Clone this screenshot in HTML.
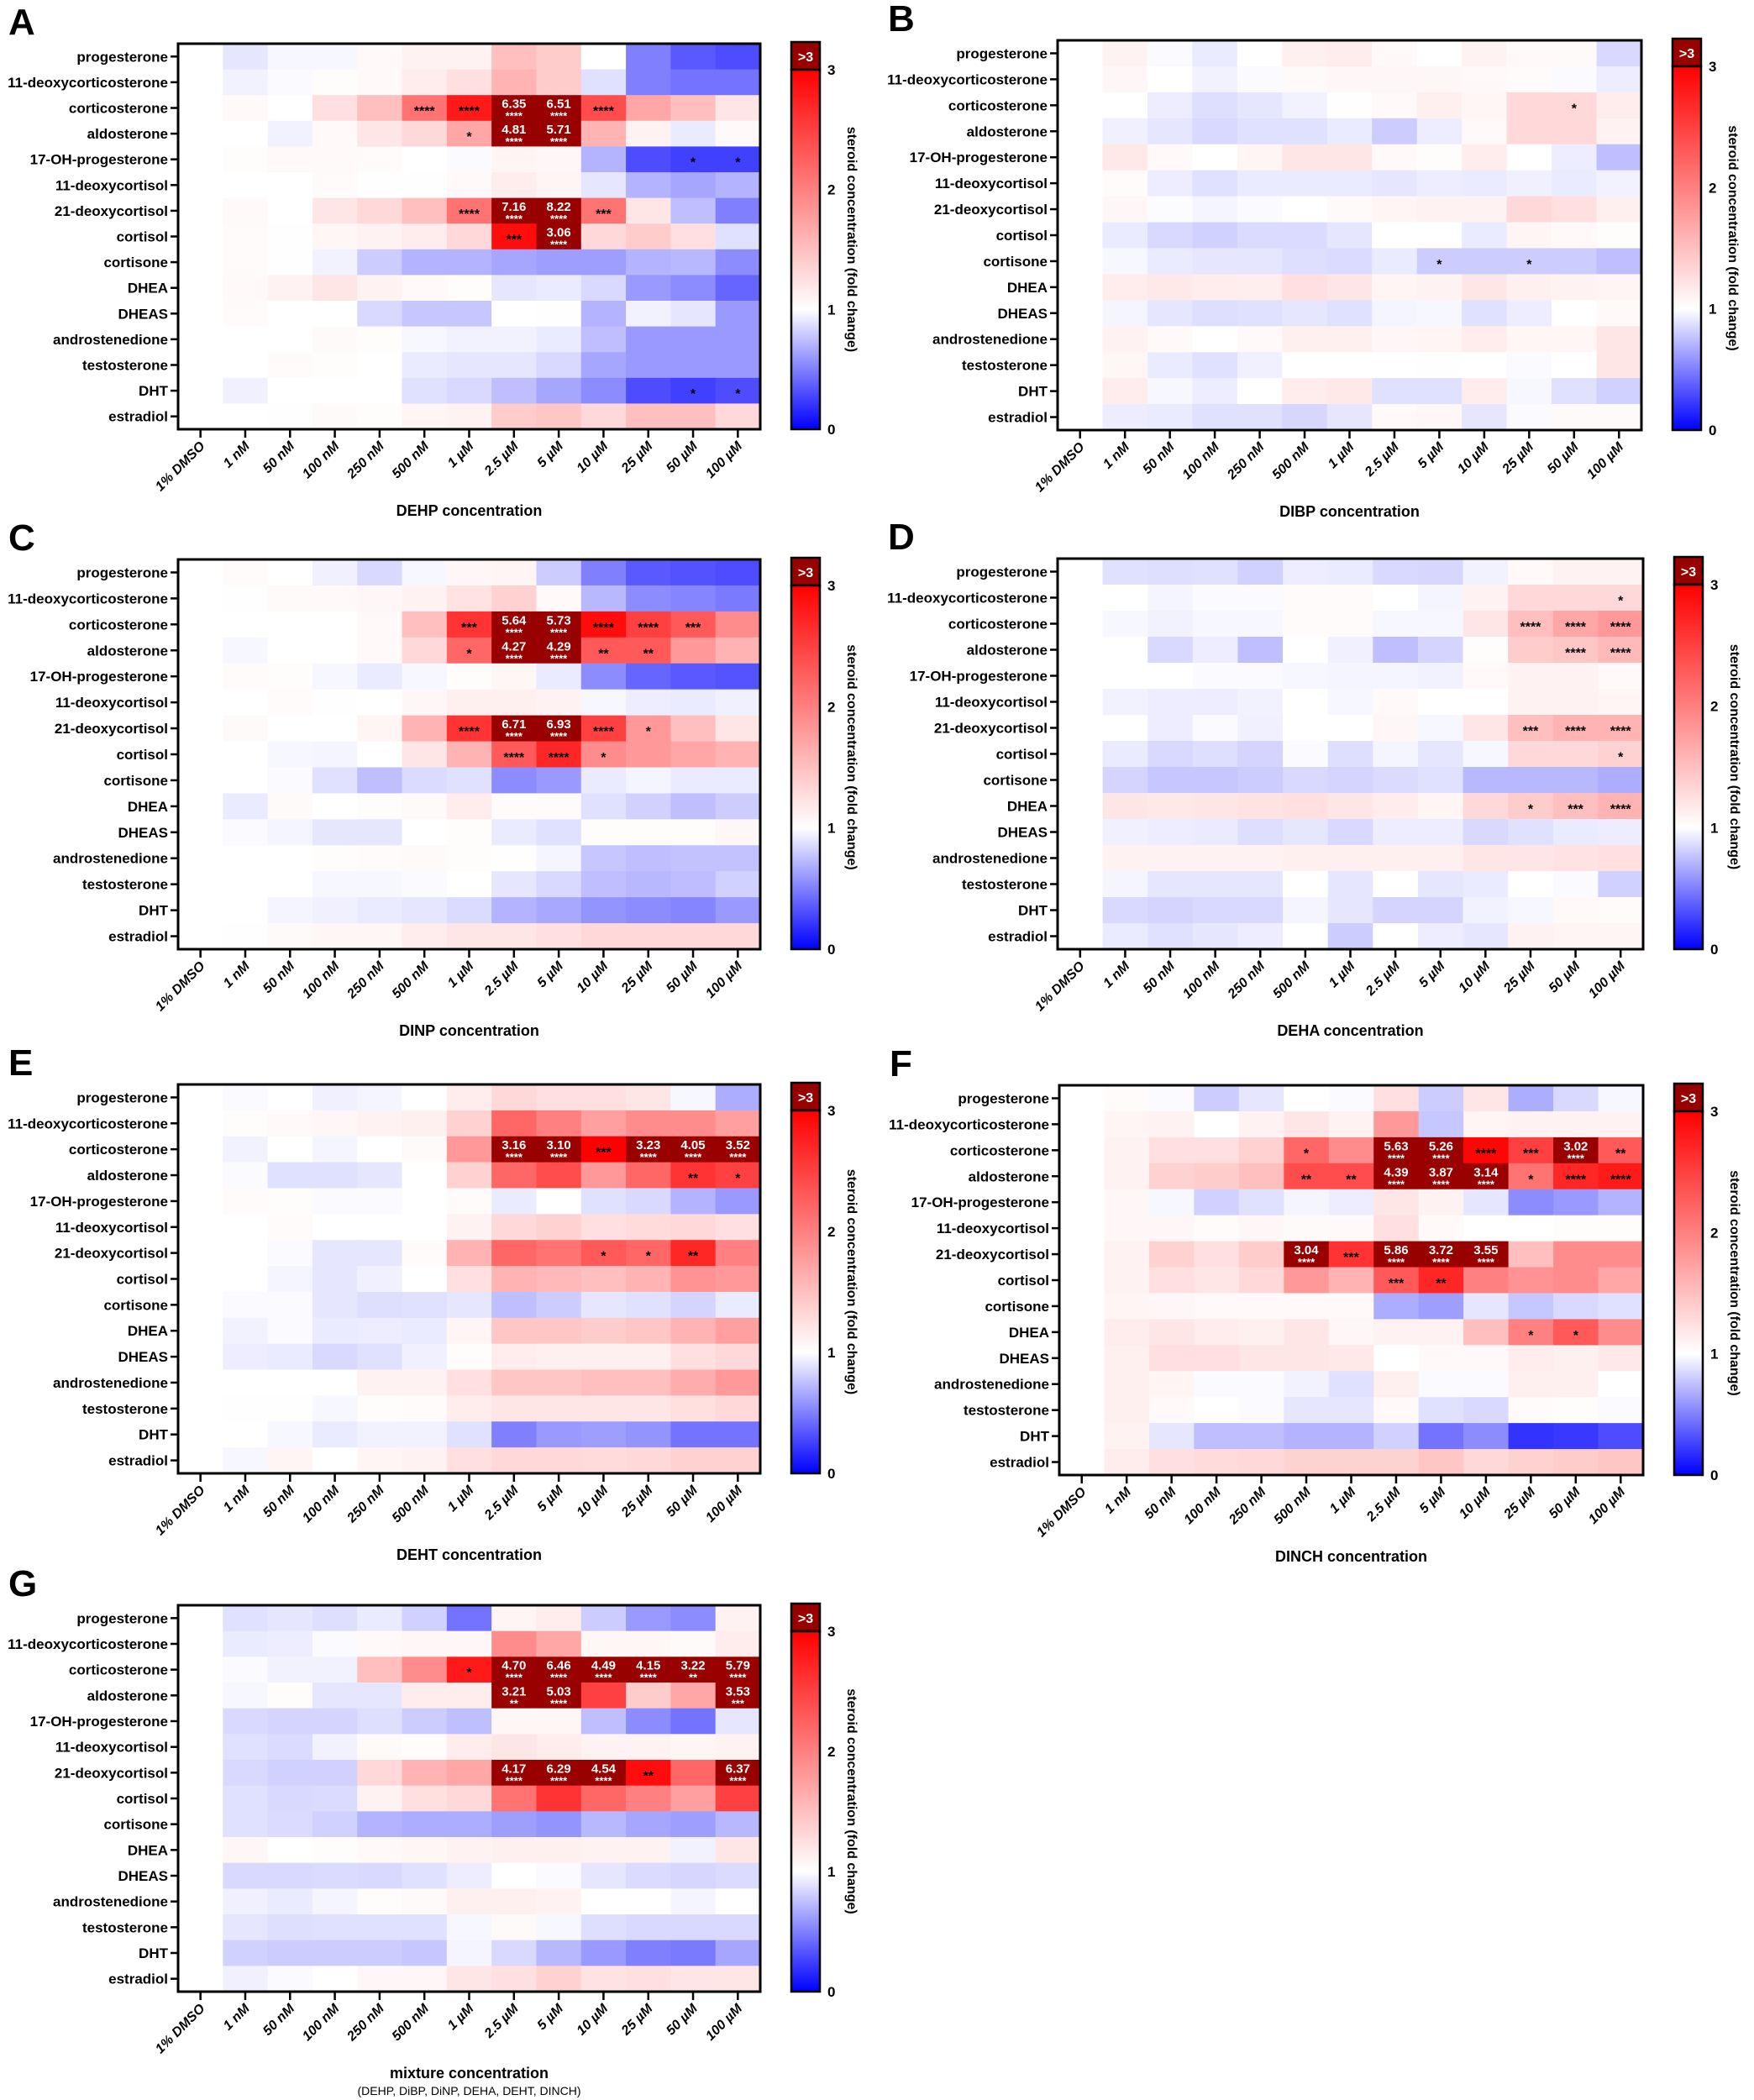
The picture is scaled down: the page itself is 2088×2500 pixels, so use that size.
<!DOCTYPE html>
<html><head><meta charset="utf-8"><style>
html,body{margin:0;padding:0;background:#fff}
svg{display:block}
text{font-family:"Liberation Sans",Arial,sans-serif;font-weight:bold}
</style></head><body>
<svg id="s" width="2088" height="2500" xmlns="http://www.w3.org/2000/svg">
<defs><linearGradient id="cg" x1="0" y1="1" x2="0" y2="0">
<stop offset="0" stop-color="#0000ff"/><stop offset="0.3333" stop-color="#ffffff"/><stop offset="1" stop-color="#ff0000"/>
</linearGradient></defs>
</svg>
<script>
const rows=["progesterone","11-deoxycorticosterone","corticosterone","aldosterone","17-OH-progesterone","11-deoxycortisol","21-deoxycortisol","cortisol","cortisone","DHEA","DHEAS","androstenedione","testosterone","DHT","estradiol"];
const cols=["1% DMSO","1 nM","50 nM","100 nM","250 nM","500 nM","1 µM","2.5 µM","5 µM","10 µM","25 µM","50 µM","100 µM"];
const P=[
{L:"A",t:"DEHP concentration",x0:212,x1:905,y0:52,y1:511,d:`
1,.9,.97,.97,1.05,1.1,1.1,1.5,1.4,1.0,.5,.35,.3
1,.95,.98,1.02,1.05,1.15,1.25,1.6,1.4,.88,.5,.45,.45
1,1.05,1.0,1.25,1.5,2.1,2.8,6.35,6.51,2.4,1.7,1.5,1.2
1,1,.95,1.05,1.2,1.3,1.7,4.81,5.71,1.6,1.1,.92,1.05
1,1.02,1.05,1.05,1.03,1.0,.98,1.08,1.06,.7,.3,.25,.25
1,1,1,1.03,1.01,1.01,1.05,1.15,1.08,.9,.7,.65,.7
1,1.05,1,1.2,1.3,1.5,2.1,7.16,8.22,2.1,1.2,.75,.5
1,1.03,1.01,1.07,1.1,1.15,1.3,2.9,3.06,1.3,1.4,1.25,.88
1,1.03,1.01,.95,.8,.7,.7,.65,.62,.62,.7,.72,.55
1,1.05,1.1,1.2,1.1,1.05,1.02,.9,.92,.85,.6,.55,.4
1,1.03,1,1,.85,.78,.78,1.0,1.01,.7,.95,.9,.6
1,1,1,1.04,1.02,.97,.95,.95,.92,.75,.6,.6,.6
1,1,1.03,1.02,1,.92,.9,.9,.85,.65,.6,.6,.6
1,.94,1,1,1,.88,.85,.75,.65,.55,.3,.25,.3
1,1,1.01,1.04,1.02,1.08,1.1,1.4,1.45,1.3,1.5,1.5,1.3`,
s:{"2,5":"****","2,6":"****","2,7":"****","2,8":"****","2,9":"****","3,6":"*","3,7":"****","3,8":"****","4,11":"*","4,12":"*","6,6":"****","6,7":"****","6,8":"****","6,9":"***","7,7":"***","7,8":"****","13,11":"*","13,12":"*"}},
{L:"B",t:"DIBP concentration",x0:1259,x1:1954,y0:48,y1:512,d:`
1,1.1,.98,.92,1.0,1.12,1.15,1.05,1.0,1.1,1.05,1.04,.85
1,1.06,1,.95,.98,1.04,1.06,1.06,1.06,1.05,1.03,.98,.93
1,1,.93,.87,.9,.95,1.01,1.05,1.12,1.07,1.3,1.3,1.15
1,.94,.9,.85,.88,.88,.92,.8,.93,1.05,1.3,1.3,1.1
1,1.18,1.05,1,1.08,1.2,1.2,1.05,1.02,1.15,1.0,.93,.75
1,1.03,.93,.88,.92,.92,.92,.9,.93,.92,.94,.92,.95
1,1.06,.99,.96,.98,1,1.04,1.08,1.1,1.1,1.3,1.25,1.12
1,.92,.85,.82,.86,.86,.9,1.0,1.0,.92,1.08,1.05,1.02
1,.97,.92,.9,.9,.87,.86,.92,.8,.8,.8,.8,.75
1,1.15,1.18,1.15,1.13,1.25,1.2,1.08,1.1,1.2,1.12,1.1,1.08
1,.96,.9,.87,.88,.9,.88,.96,.97,.88,.93,1,1.05
1,1.1,1.05,1,1.05,1.12,1.12,1.06,1.08,1.15,1.07,1.07,1.2
1,1.07,.92,.88,.94,1,1,1,1.01,1,.98,1,1.2
1,1.15,.97,.93,1,1.15,1.18,.88,.88,1.15,.97,.88,.82
1,.93,.92,.88,.88,.84,.9,1.05,1.06,.9,.98,1.04,1.04`,
s:{"2,11":"*","8,8":"*","8,10":"*"}},
{L:"C",t:"DINP concentration",x0:212,x1:905,y0:666,y1:1130,d:`
1,1.03,1,.94,.85,.97,1.06,1.08,.8,.5,.35,.32,.3
1,1.01,1.04,1.05,1.06,1.1,1.22,1.35,1.05,.72,.55,.52,.48
1,1,1,1,1.05,1.5,2.6,5.64,5.73,2.9,2.5,2.3,1.9
1,.97,1,1,1.05,1.3,2.2,4.27,4.29,2.3,2.3,1.8,1.6
1,1.03,1.02,.97,.92,.97,1.02,1.07,.92,.55,.4,.35,.33
1,1,1.03,1.01,1,1.06,1.12,1.12,1.1,.97,.93,.92,.94
1,1.04,1,1,1.08,1.6,2.6,6.71,6.93,2.5,1.8,1.5,1.2
1,1,.97,.96,1,1.2,1.6,2.3,2.7,1.9,1.8,1.7,1.6
1,1,.98,.88,.75,.86,.88,.55,.6,.92,.96,.92,.92
1,.92,1.04,1,1.02,1.05,1.15,1.03,1.03,.88,.82,.75,.8
1,.98,.96,.9,.9,1,1.02,.92,.88,1.02,1.02,1.02,1.06
1,1,1,1.02,1.03,1.04,1.02,1.01,.96,.78,.75,.76,.76
1,1,1,.97,.97,.98,1,.9,.85,.75,.72,.74,.82
1,1,.96,.94,.92,.9,.86,.7,.66,.58,.55,.52,.6
1,1.01,1.04,1.07,1.07,1.15,1.2,1.2,1.25,1.3,1.3,1.3,1.3`,
s:{"2,6":"***","2,7":"****","2,8":"****","2,9":"****","2,10":"****","2,11":"***","3,6":"*","3,7":"****","3,8":"****","3,9":"**","3,10":"**","6,6":"****","6,7":"****","6,8":"****","6,9":"****","6,10":"*","7,7":"****","7,8":"****","7,9":"*"}},
{L:"D",t:"DEHA concentration",x0:1259,x1:1956,y0:665,y1:1130,d:`
1,.88,.87,.88,.82,.93,.92,.85,.84,.95,1.05,1.1,1.1
1,1,.96,.98,.98,1.03,1.03,1,.96,1.1,1.3,1.3,1.3
1,.97,.95,.97,.97,1.03,1.03,.97,.97,1.2,1.5,1.7,1.8
1,1,.85,.93,.75,1,.94,.75,.83,1.02,1.4,1.45,1.55
1,1,1,.98,.98,.97,.96,.96,.95,1.05,1.1,1.1,1.05
1,.95,.93,.93,.95,1,.97,1.05,1.0,1.0,1.1,1.1,1.08
1,1,.93,.98,.94,1,1,1.06,.97,1.2,1.5,1.6,1.6
1,.92,.85,.87,.83,.98,.87,.96,.9,.97,1.3,1.3,1.35
1,.83,.78,.78,.8,.85,.83,.86,.88,.72,.72,.72,.68
1,1.2,1.18,1.2,1.22,1.25,1.2,1.15,1.08,1.3,1.4,1.5,1.6
1,.94,.93,.92,.87,.9,.85,.93,.93,.85,.88,.92,.93
1,1.1,1.1,1.1,1.1,1.12,1.12,1.12,1.12,1.2,1.2,1.22,1.25
1,.96,.9,.9,.9,1,.9,1.0,.9,.92,1.0,.98,.82
1,.85,.83,.85,.85,.96,.9,.83,.83,.95,.97,1.05,1.03
1,.92,.88,.9,.93,1.0,.8,1.0,.93,.9,1.1,1.08,1.08`,
s:{"1,12":"*","2,10":"****","2,11":"****","2,12":"****","3,11":"****","3,12":"****","6,10":"***","6,11":"****","6,12":"****","7,12":"*","9,10":"*","9,11":"***","9,12":"****"}},
{L:"E",t:"DEHT concentration",x0:212,x1:905,y0:1291,y1:1754,d:`
1,.98,1,.94,.96,1,1.15,1.3,1.25,1.25,1.2,.97,.68
1,1.02,1.05,1.06,1.1,1.12,1.35,2.2,2.0,1.75,1.9,1.9,1.75
1,.95,1,.96,1,1.04,1.8,3.16,3.10,3.00,3.23,4.05,3.52
1,.98,.88,.88,.9,1,1.35,2.2,2.4,1.8,2.2,2.6,2.5
1,1.03,1.02,.98,.98,1,1.03,.92,1,.88,.85,.7,.6
1,1,1.03,1,1,1,1.1,1.3,1.35,1.25,1.28,1.3,1.25
1,1,.98,.9,.9,1.03,1.6,2.2,2.1,2.3,2.2,2.7,2.0
1,1,.96,.9,.94,1,1.25,1.6,1.55,1.5,1.6,1.85,1.8
1,.98,.98,.9,.87,.88,.9,.75,.8,.9,.88,.83,.92
1,.95,.98,.92,.93,.92,1.08,1.45,1.45,1.4,1.45,1.6,1.75
1,.93,.92,.85,.88,.94,1.02,1.15,1.12,1.12,1.12,1.25,1.3
1,1,1,1,1.1,1.1,1.25,1.45,1.45,1.5,1.5,1.65,1.8
1,1.01,1.01,.97,1.02,1.03,1.15,1.2,1.2,1.2,1.2,1.25,1.3
1,1,.97,.92,.95,.95,.88,.5,.6,.62,.58,.45,.45
1,.97,1.08,1,1.08,1.1,1.25,1.3,1.3,1.28,1.3,1.35,1.35`,
s:{"2,7":"****","2,8":"****","2,9":"***","2,10":"****","2,11":"****","2,12":"****","3,11":"**","3,12":"*","6,9":"*","6,10":"*","6,11":"**"}},
{L:"F",t:"DINCH concentration",x0:1261,x1:1956,y0:1292,y1:1756,d:`
1,1.03,.98,.8,.9,1,.98,1.25,.8,1.2,.68,.85,.97
1,1.08,1.1,1,1.1,1.2,1.1,1.8,.78,1.08,1.1,1.1,1.1
1,1.1,1.25,1.25,1.35,2.2,1.9,5.63,5.26,2.95,2.5,3.02,2.3
1,1.1,1.35,1.4,1.5,2.4,2.4,4.39,3.87,3.14,2.1,2.7,2.8
1,1.06,.97,.82,.88,.96,.93,1.2,1.1,.9,.55,.6,.7
1,1.06,1.06,1.03,1.06,1.04,1.05,1.25,1.05,1,1,1.02,1.02
1,1.1,1.35,1.25,1.4,3.04,2.6,5.86,3.72,3.55,1.5,1.9,1.9
1,1.1,1.25,1.2,1.3,1.8,1.6,2.3,2.7,2.0,1.85,1.9,1.7
1,1.08,1.06,1.05,1.05,1.05,1.05,.68,.62,.9,.78,.85,.88
1,1.15,1.2,1.15,1.12,1.2,1.06,1.1,1.1,1.5,2.0,2.3,1.9
1,1.12,1.25,1.25,1.2,1.2,1.18,1.0,1.05,1.05,1.15,1.12,1.18
1,1.12,1.08,.98,.98,.95,.88,1.12,.98,.98,1.12,1.12,1.0
1,1.12,1.05,1,.98,.9,.9,1.05,.88,.85,1.03,1.02,.98
1,1.1,.9,.75,.75,.7,.7,.82,.45,.55,.2,.22,.3
1,1.15,1.25,1.28,1.3,1.35,1.35,1.35,1.45,1.3,1.35,1.4,1.45`,
s:{"2,5":"*","2,7":"****","2,8":"****","2,9":"****","2,10":"***","2,11":"****","2,12":"**","3,5":"**","3,6":"**","3,7":"****","3,8":"****","3,9":"****","3,10":"*","3,11":"****","3,12":"****","6,5":"****","6,6":"***","6,7":"****","6,8":"****","6,9":"****","7,7":"***","7,8":"**","9,10":"*","9,11":"*"}},
{L:"G",t:"mixture concentration",sub:"(DEHP, DiBP, DiNP, DEHA, DEHT, DINCH)",x0:212,x1:905,y0:1911,y1:2371,d:`
1,.88,.9,.87,.92,.82,.45,1.08,1.15,.8,.6,.55,1.1
1,.92,.93,.98,1.05,1.06,1.06,1.9,1.7,1.07,1.07,1.04,1.15
1,.98,.95,.95,1.5,1.9,2.8,4.70,6.46,4.49,4.15,3.22,5.79
1,.97,1.02,.9,.9,1.15,1.15,3.21,5.03,2.5,1.4,1.7,3.53
1,.85,.83,.83,.87,.8,.75,1.07,1.07,.75,.55,.45,.9
1,.88,.86,.95,1.04,1.02,1.15,1.2,1.15,1.1,1.1,1.08,1.1
1,.85,.82,.82,1.3,1.6,1.7,4.17,6.29,4.54,2.9,2.2,6.37
1,.88,.85,.86,1.1,1.25,1.3,2.1,2.6,2.2,2.0,1.75,2.5
1,.88,.86,.82,.7,.68,.68,.62,.58,.72,.65,.62,.72
1,1.06,1,1.02,1.05,1.07,1.1,1.12,1.12,1.1,1.1,.95,1.2
1,.85,.85,.86,.85,.88,.93,1,.98,.9,.86,.84,.86
1,.94,.92,.96,1.02,1.04,1.12,1.12,1.1,1,1,.96,1.0
1,.9,.87,.88,.88,.88,.97,1.04,.97,.87,.85,.85,.85
1,.82,.8,.8,.8,.78,.96,.85,.72,.6,.5,.48,.65
1,.94,.98,1,1.06,1.06,1.2,1.25,1.35,1.22,1.25,1.2,1.2`,
s:{"2,6":"*","2,7":"****","2,8":"****","2,9":"****","2,10":"****","2,11":"**","2,12":"****","3,7":"**","3,8":"****","3,12":"***","6,7":"****","6,8":"****","6,9":"****","6,10":"**","6,12":"****"}}
];
function col(v){
 if(v>3)return "#990000";
 let r,g,b;
 if(v<=1){const t=Math.max(0,v);r=g=Math.round(255*t);b=255;}
 else{const t=(v-1)/2;r=255;g=b=Math.round(255*(1-t));}
 return `rgb(${r},${g},${b})`;
}
let h="";
for(const p of P){
 const rowsV=p.d.trim().split("\n").map(l=>l.split(",").map(Number));
 const W=p.x1-p.x0,H=p.y1-p.y0,cw=W/13,rh=H/15;
 h+=`<text x="${p.x0-202}" y="${p.y0-11}" font-size="44" font-family="Liberation Sans">${p.L}</text>`;
 for(let i=0;i<15;i++){
  const cy=p.y0+rh*i+rh/2;
  h+=`<text x="${p.x0-12}" y="${cy+6}" font-size="17" text-anchor="end">${rows[i]}</text>`;
  h+=`<line x1="${p.x0-9}" x2="${p.x0}" y1="${cy}" y2="${cy}" stroke="#000" stroke-width="2.5"/>`;
  for(let j=0;j<13;j++){
   const v=rowsV[i][j];
   const x=p.x0+cw*j,y=p.y0+rh*i;
   h+=`<rect x="${x.toFixed(2)}" y="${y.toFixed(2)}" width="${(cw+0.6).toFixed(2)}" height="${(rh+0.6).toFixed(2)}" fill="${col(v)}"/>`;
  }
 }
 for(let i=0;i<15;i++)for(let j=0;j<13;j++){
  const v=rowsV[i][j],st=p.s[i+","+j];
  const cx=p.x0+cw*j+cw/2,cy=p.y0+rh*i+rh/2;
  if(v>3){
   h+=`<text x="${cx}" y="${cy}" font-size="15" fill="#fff" text-anchor="middle">${v.toFixed(2)}</text>`;
   if(st)h+=`<text x="${cx}" y="${cy+14}" font-size="13" fill="#fff" text-anchor="middle">${st}</text>`;
  }else if(st){
   h+=`<text x="${cx}" y="${cy+9}" font-size="16" fill="#000" text-anchor="middle">${st}</text>`;
  }
 }
 h+=`<rect x="${p.x0}" y="${p.y0}" width="${W}" height="${H}" fill="none" stroke="#000" stroke-width="3"/>`;
 for(let j=0;j<13;j++){
  const cx=p.x0+cw*j+cw/2;
  h+=`<line x1="${cx}" x2="${cx}" y1="${p.y1}" y2="${p.y1+10}" stroke="#000" stroke-width="2.5"/>`;
  h+=`<text transform="translate(${cx+6},${p.y1+21}) rotate(-45)" font-size="16" font-style="italic" text-anchor="end">${cols[j]}</text>`;
 }
 const mx=(p.x0+p.x1)/2;
 h+=`<text x="${mx}" y="${p.y1+103}" font-size="18" text-anchor="middle">${p.t}</text>`;
 if(p.sub)h+=`<text x="${mx}" y="${p.y1+123}" font-size="14" style="font-weight:normal" text-anchor="middle">${p.sub}</text>`;
 const cb0=p.x1+37,cbw=34,gt=p.y0+31;
 h+=`<rect x="${cb0}" y="${p.y0-2}" width="${cbw}" height="${gt-p.y0+2}" fill="#990000" stroke="#000" stroke-width="2.5"/>`;
 h+=`<text x="${cb0+cbw/2}" y="${p.y0+21}" font-size="16" fill="#fff" text-anchor="middle">&gt;3</text>`;
 h+=`<rect x="${cb0}" y="${gt}" width="${cbw}" height="${p.y1-gt}" fill="url(#cg)" stroke="#000" stroke-width="2.5"/>`;
 for(let k=0;k<=3;k++){
  const y=p.y1-(p.y1-gt)*k/3;
  h+=`<text x="${cb0+cbw+9}" y="${y+6}" font-size="17">${k}</text>`;
 }
 const ccy=(gt+p.y1)/2-12;
 h+=`<text transform="translate(${cb0+cbw+33},${ccy}) rotate(90)" font-size="16" text-anchor="middle">steroid concentration (fold change)</text>`;
}
document.getElementById("s").insertAdjacentHTML("beforeend",h);
</script>
</body></html>
